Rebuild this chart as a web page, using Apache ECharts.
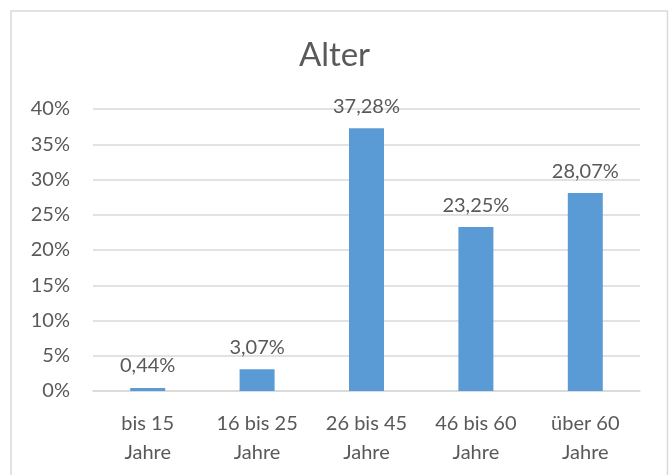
<!DOCTYPE html>
<html>
<head>
<meta charset="utf-8">
<script src="https://cdn.jsdelivr.net/npm/echarts@6/dist/echarts.min.js"></script>
<style>
html,body{margin:0;padding:0;background:#fff;}
#c{width:669px;height:475px;}
</style>
</head>
<body>
<div id="c"></div>
<script>
const titleText = 'Alter';
const categories = ['bis 15\nJahre', '16 bis 25\nJahre', '26 bis 45\nJahre', '46 bis 60\nJahre', 'über 60\nJahre'];
const values = [0.44, 3.07, 37.28, 23.25, 28.07];
const yTicks = [0, 5, 10, 15, 20, 25, 30, 35, 40];

const textColor = '#595959';
const font = 'Lato';
const chart = echarts.init(document.getElementById('c'), null, {renderer: 'canvas'});
chart.setOption({
  animation: false,
  backgroundColor: '#fff',
  graphic: [{
    type: 'rect',
    shape: {x: 11, y: 11, width: 656.5, height: 500},
    style: {fill: 'none', stroke: '#d9d9d9', lineWidth: 1.5},
    silent: true
  }],
  title: {
    text: titleText,
    left: 'center',
    top: 34,
    textStyle: {fontFamily: font, fontSize: 33, fontWeight: 'normal', color: textColor}
  },
  grid: {left: 93, right: 29, top: 109, bottom: 84, containLabel: false},
  xAxis: {
    type: 'category',
    data: categories,
    axisLine: {lineStyle: {color: '#d9d9d9', width: 1.5}},
    axisTick: {show: false},
    axisLabel: {color: textColor, fontFamily: font, fontSize: 20, lineHeight: 29, margin: 18, interval: 0}
  },
  yAxis: {
    type: 'value',
    min: yTicks[0],
    max: yTicks[yTicks.length - 1],
    interval: 5,
    axisLine: {show: false},
    axisTick: {show: false},
    splitLine: {lineStyle: {color: '#d9d9d9', width: 1.5}},
    axisLabel: {color: textColor, fontFamily: font, fontSize: 20, margin: 23, formatter: '{value}%'}
  },
  series: [{
    type: 'bar',
    data: values,
    barWidth: 35,
    itemStyle: {color: '#5b9bd5'},
    label: {
      show: true,
      position: 'top',
      distance: 12,
      color: textColor,
      fontFamily: font,
      fontSize: 20,
      formatter: p => p.value.toFixed(2).replace('.', ',') + '%'
    }
  }]
});
</script>
</body>
</html>
